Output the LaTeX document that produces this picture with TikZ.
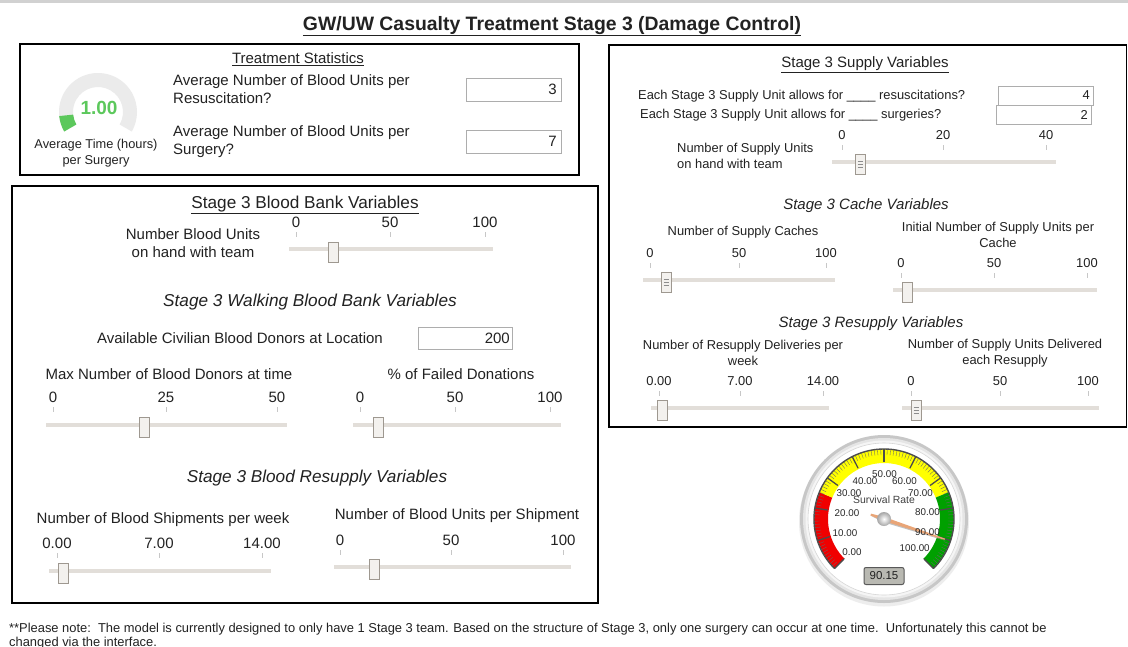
\documentclass[tikz,border=0pt]{standalone}
\usepackage{fontspec}
\setmainfont{Liberation Sans}
\usetikzlibrary{calc}
\definecolor{trackc}{HTML}{E2DED9}
\definecolor{thumbfill}{HTML}{F3F1EE}
\definecolor{thumbdraw}{HTML}{9E9890}
\definecolor{txt}{HTML}{222222}
\definecolor{ringgray}{HTML}{EBEBEB}
\definecolor{okgreen}{HTML}{5CC85C}
\definecolor{gred}{HTML}{F00000}
\definecolor{gyellow}{HTML}{FFFF00}
\definecolor{ggreen}{HTML}{00A000}
\definecolor{needlec}{HTML}{E9A577}
\definecolor{valfill}{HTML}{B9B9B2}

% slider pieces
\newcommand\slidetrack[4]{\draw[track] (#2,#4) coordinate (#1-a) -- (#3,#4) coordinate (#1-b);}
\newcommand\scalemark[5]{\node[#5] (#1) at (#2,#3) {#4};\draw[tickmk] (#2,#3+10) -- (#2,#3+15);}

\begin{document}
\begin{tikzpicture}[x=1pt,y=-1pt,
  every node/.style={inner sep=0pt, text=txt},
  panel/.style={draw=black, line width=1.3pt},
  f16/.style={font=\fontsize{17.2}{19}\selectfont},
  f14/.style={font=\fontsize{15}{18}\selectfont},
  f13/.style={font=\fontsize{12.8}{15.5}\selectfont},
  f12/.style={font=\fontsize{12.9}{15.5}\selectfont},
  track/.style={draw=trackc, line width=4.5pt},
  tickmk/.style={draw=black!22, line width=0.6pt},
  thumb/.style={draw=thumbdraw, fill=thumbfill, line width=0.7pt, rectangle,
    minimum width=10pt, minimum height=20pt},
  gthumb/.style={thumb, path picture={\foreach \d in {-3,0,3}
    \draw[black!45, line width=0.5pt] ([xshift=-2.5pt,yshift=\d pt]path picture bounding box.center) -- ++(5,0);}},
  inbox/.style={draw=black!32, line width=0.8pt, fill=white},
  glbl/.style={font=\fontsize{9.8}{10}\selectfont, text=black!85},
]
\useasboundingbox (0,0) rectangle (1128,646);
\fill[white] (0,0) rectangle (1128,646);
\fill[black!18] (0,0) rectangle (1128,3);

% title
\node[font=\bfseries\fontsize{19.4}{21}\selectfont, anchor=base] (title) at (552,30)
  {\underline{GW/UW Casualty Treatment Stage 3 (Damage Control)}};

% ---------------- treatment statistics ----------------
\draw[panel] (20,44) rectangle (579,175);
\node[f14, anchor=base] (tstat) at (298,63.5) {\underline{Treatment Statistics}};
\node[f14, align=left, anchor=west] (q1) at (173,89.5) {Average Number of Blood Units per\\Resuscitation?};
\node[f14, align=left, anchor=west] (q2) at (173,141.5) {Average Number of Blood Units per\\Surgery?};
\draw[inbox] (466,78) rectangle (561,101);
\node[f14, anchor=east] (v1) at (557,89.5) {3};
\draw[inbox] (466,130) rectangle (561,153);
\node[f14, anchor=east] (v2) at (557,141.5) {7};

\begin{scope}[shift={(98,112)}, yscale=-1]
  \fill[ringgray] (210:39) arc[start angle=210, end angle=-30, radius=39]
     -- (-30:25) arc[start angle=-30, end angle=210, radius=25] -- cycle;
  \fill[okgreen] (210:39) arc[start angle=210, end angle=186, radius=39]
     -- (186:25) arc[start angle=186, end angle=210, radius=25] -- cycle;
\end{scope}
\node[font=\bfseries\fontsize{19}{20}\selectfont, text=okgreen] (avg) at (99,108) {1.00};
\node[f13, align=center] (avglbl) at (96,153) {Average Time (hours)\\per Surgery};

% ---------------- blood bank ----------------
\draw[panel] (12,186) rectangle (598,603);
\node[f16, anchor=base] (bbt) at (305,208) {\underline{Stage 3 Blood Bank Variables}};
\node[f14, align=center] (bbl) at (193,243) {Number Blood Units\\on hand with team};
\scalemark{bb0}{296}{222}{0}{f14}
\scalemark{bb50}{390}{222}{50}{f14}
\scalemark{bb100}{485}{222}{100}{f14}
\slidetrack{bbs}{289}{493}{249}
\node[thumb] (bbth) at (333,252) {};

\node[f16, font=\itshape\fontsize{17.2}{19}\selectfont] (wbt) at (310,302) {Stage 3 Walking Blood Bank Variables};
\node[f14] (civ) at (240,338) {Available Civilian Blood Donors at Location};
\draw[inbox] (418,327) rectangle (512,349);
\node[f14, anchor=east] (v3) at (510,338) {200};

\node[f14] (mxl) at (169,374) {Max Number of Blood Donors at time};
\scalemark{mx0}{53}{397}{0}{f14}
\scalemark{mx25}{166}{397}{25}{f14}
\scalemark{mx50}{277}{397}{50}{f14}
\slidetrack{mxs}{46}{287}{425}
\node[thumb] (mxth) at (144,427) {};

\node[f14] (fdl) at (461,374) {\% of Failed Donations};
\scalemark{fd0}{360}{397}{0}{f14}
\scalemark{fd50}{455}{397}{50}{f14}
\scalemark{fd100}{550}{397}{100}{f14}
\slidetrack{fds}{353}{561}{425}
\node[thumb] (fdth) at (378,427) {};

\node[f16, font=\itshape\fontsize{17.2}{19}\selectfont] (brt) at (317,478) {Stage 3 Blood Resupply Variables};
\node[f14] (shl) at (163,520) {Number of Blood Shipments per week};
\scalemark{sh0}{57}{543}{0.00}{f14}
\scalemark{sh7}{159}{543}{7.00}{f14}
\scalemark{sh14}{262}{543}{14.00}{f14}
\slidetrack{shs}{49}{271}{571}
\node[thumb] (shth) at (63,573) {};

\node[f14] (upl) at (457,516) {Number of Blood Units per Shipment};
\scalemark{up0}{340}{540}{0}{f14}
\scalemark{up50}{451}{540}{50}{f14}
\scalemark{up100}{563}{540}{100}{f14}
\slidetrack{ups}{334}{571}{567}
\node[thumb] (upth) at (374,569) {};

% ---------------- supply ----------------
\draw[panel] (609,45) rectangle (1126.5,427);
\node[f14, anchor=base] (svt) at (865,67.5) {\underline{Stage 3 Supply Variables}};
\node[f12, anchor=west] (e1) at (638,96) {Each Stage 3 Supply Unit allows for \_\_\_\_ resuscitations?};
\node[f12, anchor=west] (e2) at (640,115) {Each Stage 3 Supply Unit allows for \_\_\_\_ surgeries?};
\draw[inbox] (998,86) rectangle (1093,105);
\node[f12, anchor=east] (v4) at (1090,95.5) {4};
\draw[inbox] (996,105) rectangle (1091,124);
\node[f12, anchor=east] (v5) at (1088,114.5) {2};

\node[f12, align=left, anchor=west] (sul) at (677,156) {Number of Supply Units\\on hand with team};
\scalemark{su0}{842}{135}{0}{f12}
\scalemark{su20}{943}{135}{20}{f12}
\scalemark{su40}{1046}{135}{40}{f12}
\slidetrack{sus}{832}{1056}{162}
\node[gthumb] (suth) at (860,164) {};

\node[f14, font=\itshape\fontsize{15}{17}\selectfont] (cvt) at (866,206) {Stage 3 Cache Variables};
\node[f12] (ncl) at (743,232) {Number of Supply Caches};
\scalemark{nc0}{650}{253}{0}{f12}
\scalemark{nc50}{739}{253}{50}{f12}
\scalemark{nc100}{826}{253}{100}{f12}
\slidetrack{ncs}{643}{835}{280}
\node[gthumb] (ncth) at (666,282) {};

\node[f12, align=center] (inl) at (998,235) {Initial Number of Supply Units per\\Cache};
\scalemark{in0}{901}{263}{0}{f12}
\scalemark{in50}{994}{263}{50}{f12}
\scalemark{in100}{1087}{263}{100}{f12}
\slidetrack{ins}{893}{1097}{290}
\node[thumb] (inth) at (907,292) {};

\node[f14, font=\itshape\fontsize{15}{17}\selectfont] (rvt) at (871,324) {Stage 3 Resupply Variables};
\node[f12, align=center] (rdl) at (743,353) {Number of Resupply Deliveries per\\week};
\scalemark{rd0}{659}{381}{0.00}{f12}
\scalemark{rd7}{740}{381}{7.00}{f12}
\scalemark{rd14}{823}{381}{14.00}{f12}
\slidetrack{rds}{651}{829}{408}
\node[thumb] (rdth) at (662,410) {};

\node[f12, align=center] (udl) at (1005,353) {Number of Supply Units Delivered\\each Resupply};
\scalemark{ud0}{911}{381}{0}{f12}
\scalemark{ud50}{1000}{381}{50}{f12}
\scalemark{ud100}{1088}{381}{100}{f12}
\slidetrack{uds}{902}{1099}{408}
\node[gthumb] (udth) at (916,410) {};

% ---------------- survival rate dial ----------------
\begin{scope}[shift={(884,519)}, yscale=-1]
  \fill[black!7] (0,-2.5) circle (85);
  \fill[black!22] (0,0) circle (84);
  \fill[black!10] (0,0) circle (81);
  \fill[black!4] (0,0) circle (78.5);
  \fill[white] (0,0) circle (76);
  \draw[black!16, line width=0.6pt] (0,0) circle (76);
  % coloured band
  \fill[gred] (225:70) arc[start angle=225, end angle=157.5, radius=70]
     -- (157.5:56) arc[start angle=157.5, end angle=225, radius=56] -- cycle;
  \fill[gyellow] (157.5:70) arc[start angle=157.5, end angle=22.5, radius=70]
     -- (22.5:56) arc[start angle=22.5, end angle=157.5, radius=56] -- cycle;
  \fill[ggreen] (22.5:70) arc[start angle=22.5, end angle=-45, radius=70]
     -- (-45:56) arc[start angle=-45, end angle=22.5, radius=56] -- cycle;
  \draw[black!70, line width=1.4pt] (225:70) arc[start angle=225, end angle=-45, radius=70];
  \foreach \v in {0,...,100}
    \draw[black!60, line width=0.35pt] ({225-2.7*\v}:64) -- ({225-2.7*\v}:70);
  \foreach \v in {0,10,...,100}
    \draw[black!70, line width=1.3pt] ({225-2.7*\v}:57) -- ({225-2.7*\v}:70);
  \draw[black!70, line width=1pt] (225:56) -- (225:70) (-45:56) -- (-45:70);
  % needle and hub
  \pgfmathsetmacro\na{225-2.7*90.15}
  \fill[black!40, opacity=0.6] ($(\na:64)+(0.8,-1.6)$) -- ($(\na+90:2)+(0.8,-1.6)$)
     -- ($(\na+180:14)+(0.8,-1.6)$) -- ($(\na-90:2)+(0.8,-1.6)$) -- cycle;
  \fill[needlec] ($(\na:64)+(\na+90:0.7)$) -- (\na+90:2) -- ($(\na+180:14)+(\na+90:1)$)
     -- ($(\na+180:14)+(\na-90:1)$) -- (\na-90:2) -- ($(\na:64)+(\na-90:0.7)$) -- cycle;
  \shade[inner color=white, outer color=black!35] (0,0) circle (7);
\end{scope}
% scale figures of the dial
\node[glbl] (d0)   at (852,552) {0.00};
\node[glbl] (d10)  at (845,533) {10.00};
\node[glbl] (d20)  at (847,513) {20.00};
\node[glbl] (d30)  at (849,493) {30.00};
\node[glbl] (d40)  at (865,481) {40.00};
\node[glbl] (d50)  at (884.5,474) {50.00};
\node[glbl] (d60)  at (904.5,481) {60.00};
\node[glbl] (d70)  at (920.5,493) {70.00};
\node[glbl] (d80)  at (927.5,512) {80.00};
\node[glbl] (d90)  at (927.5,532) {90.00};
\node[glbl] (d100) at (914.7,548) {100.00};
\node[font=\fontsize{10.4}{12}\selectfont, text=black!75] (srl) at (884,499.5) {Survival Rate};
\node[draw=black!65, line width=1pt, fill=valfill, rounded corners=2pt,
  minimum width=40pt, minimum height=17pt, font=\fontsize{11.5}{12}\selectfont] (sval) at (884,576) {90.15};

% footnote
\node[font=\fontsize{12.9}{14.5}\selectfont, anchor=west, align=left] (note) at (9,636)
 {**Please note:\ \ The model is currently designed to only have 1 Stage 3 team. Based on the structure of Stage 3, only one surgery can occur at one time.\ \ Unfortunately this cannot be\\changed via the interface.};
\end{tikzpicture}
\end{document}
